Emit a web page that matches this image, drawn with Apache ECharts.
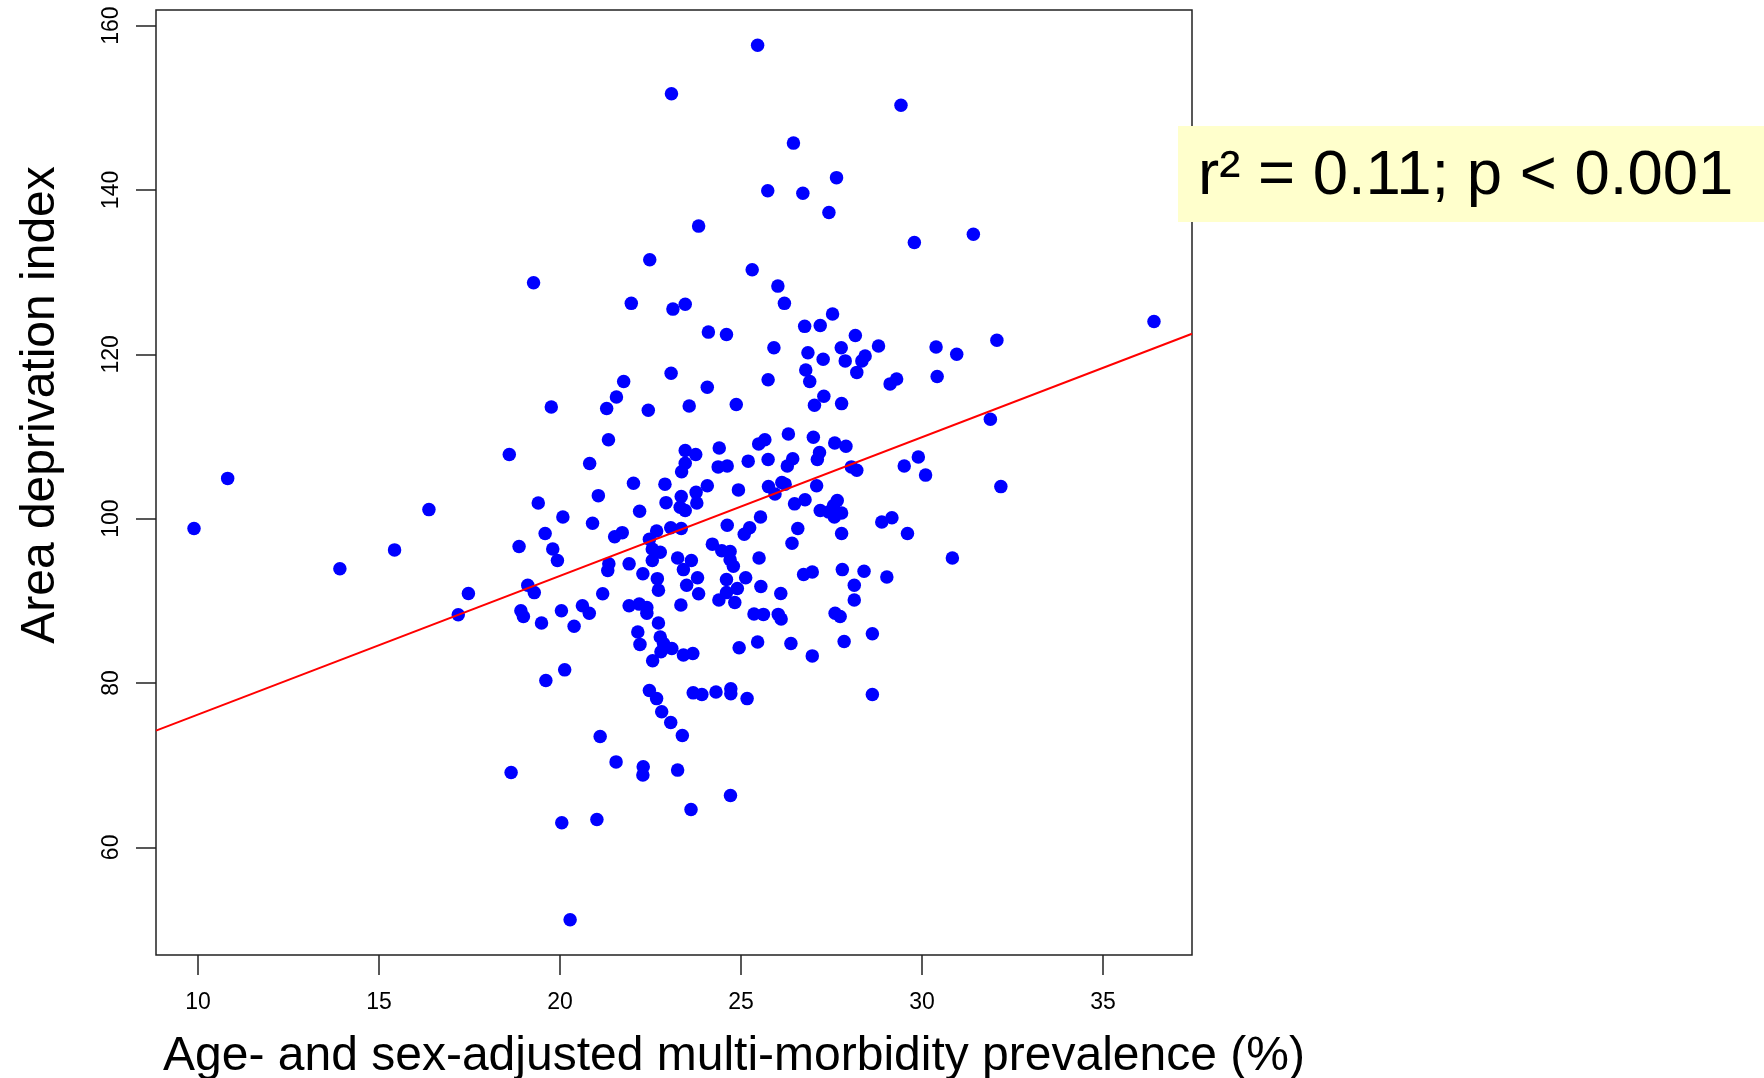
<!DOCTYPE html>
<html>
<head>
<meta charset="utf-8">
<script src="https://cdn.jsdelivr.net/npm/echarts@6/dist/echarts.min.js"></script>
<style>
html,body{margin:0;padding:0;background:#fff;}
#chart{width:1764px;height:1078px;}
</style>
</head>
<body>
<div id="chart"></div>
<script>
// Age- and sex-adjusted multi-morbidity prevalence (%)
const prevalence = [
9.89,10.82,13.92,15.43,16.38,17.19,17.47,18.6,18.65,18.87,18.92,18.99,19.11,19.29,19.27,19.4,19.49,19.59,19.61,19.76,
19.8,19.93,20.04,20.05,20.08,20.13,20.28,20.39,20.62,20.81,20.82,20.9,21.02,21.06,21.11,21.18,21.29,21.32,21.34,21.35,
21.51,21.55,21.56,21.72,21.76,21.91,21.91,21.97,22.03,22.15,22.19,22.2,22.21,22.29,22.29,22.3,22.4,22.4,22.44,22.47,
22.47,22.48,22.55,22.55,22.56,22.67,22.67,22.69,22.72,22.72,22.77,22.77,22.79,22.81,22.86,22.9,22.93,23.06,23.06,23.07,
23.08,23.09,23.12,23.25,23.25,23.32,23.34,23.35,23.35,23.36,23.38,23.41,23.41,23.46,23.46,23.46,23.46,23.5,23.57,23.62,
23.63,23.67,23.68,23.75,23.76,23.78,23.8,23.83,23.83,23.92,24.07,24.07,24.1,24.21,24.31,24.37,24.39,24.4,24.47,24.6,
24.6,24.6,24.62,24.62,24.7,24.7,24.71,24.72,24.72,24.79,24.83,24.87,24.9,24.93,24.95,25.09,25.13,25.17,25.2,25.24,
25.31,25.36,25.46,25.46,25.49,25.5,25.54,25.55,25.62,25.66,25.74,25.75,25.75,25.76,25.91,25.94,26.02,26.03,26.1,26.11,
26.13,26.2,26.22,26.28,26.31,26.38,26.41,26.43,26.45,26.48,26.57,26.71,26.73,26.76,26.77,26.79,26.85,26.9,26.97,26.97,
27.0,27.03,27.09,27.11,27.17,27.19,27.19,27.27,27.29,27.42,27.43,27.53,27.56,27.58,27.59,27.6,27.64,27.66,27.74,27.77,
27.78,27.78,27.78,27.8,27.85,27.88,27.9,28.05,28.13,28.13,28.16,28.2,28.2,28.34,28.4,28.43,28.63,28.63,28.8,28.89,
29.03,29.12,29.17,29.3,29.42,29.51,29.6,29.79,29.9,30.1,30.39,30.42,30.84,30.96,31.42,31.89,32.07,32.18,36.41
];
// Area deprivation index
const deprivation = [
98.8,104.9,93.9,96.2,101.1,88.3,90.9,107.8,69.1,96.6,88.8,88.1,91.9,91.0,128.7,101.9,87.3,98.2,80.3,113.6,
96.3,94.9,88.8,63.0,100.2,81.6,51.2,86.9,89.4,88.5,106.7,99.45,63.4,102.8,73.5,90.85,113.4,93.7,109.6,94.5,
97.8,70.4,114.8,98.3,116.7,94.5,89.4,126.2,104.3,86.2,89.6,100.9,84.7,93.3,68.8,69.8,89.2,88.5,113.2,97.5,
79.1,131.5,96.3,94.9,82.7,98.5,78.1,92.7,91.3,87.3,95.9,85.6,83.8,76.5,84.8,104.2,101.95,98.9,75.2,117.7,
151.7,84.2,125.5,95.2,69.4,101.4,89.5,102.7,98.8,105.7,73.6,93.8,83.4,126.1,108.3,106.75,101.0,91.9,113.7,64.6,
94.9,83.6,78.8,107.8,103.2,101.9,92.8,90.85,135.6,78.6,116.0,104.0,122.7,96.9,78.9,106.3,90.1,108.6,96.1,122.4,
92.6,91.0,106.4,99.2,96.0,95.0,66.3,79.3,78.7,94.2,89.8,113.9,91.5,103.5,84.3,98.1,92.8,78.1,107.0,98.9,
130.3,88.4,157.6,85.0,109.1,95.2,100.2,91.75,88.35,109.6,139.9,116.9,107.2,103.9,120.8,103.0,128.3,88.35,90.9,87.8,
104.4,126.2,104.2,106.4,110.3,84.8,97.0,107.3,145.7,101.8,98.8,139.6,93.2,123.4,102.3,118.1,120.2,116.7,93.5,83.3,
109.9,113.8,104.0,107.2,108.05,123.5,101.0,119.4,114.9,100.8,137.25,124.9,101.6,100.2,109.2,88.5,141.5,102.2,88.1,120.8,
114.0,100.7,98.2,93.8,85.05,119.2,108.8,106.3,91.9,90.1,122.3,117.8,105.9,119.2,93.6,119.8,86.0,78.6,121.0,99.6,
92.9,116.4,100.1,117.0,150.3,106.4,98.2,133.6,107.5,105.3,120.9,117.3,95.2,120.0,134.6,112.1,121.7,103.9,124.0
];
// Fitted regression line endpoints (at the plot edges)
const fitX = [8.84, 37.46];
const fitY = [74.2, 122.5];
// Tick labels
const xTicks = [10, 15, 20, 25, 30, 35];
const yTicks = [60, 80, 100, 120, 140, 160];
const xTitle = 'Age- and sex-adjusted multi-morbidity prevalence (%)';
const yTitle = 'Area deprivation index';
const statText = 'r\u00B2 = 0.11; p < 0.001';

const points = prevalence.map((x, i) => [x, deprivation[i]]);
const fitLine = fitX.map((x, i) => [x, fitY[i]]);
const FONT = '"Liberation Sans", Arial, Helvetica, sans-serif';

const chart = echarts.init(document.getElementById('chart'), null, {renderer: 'canvas'});
chart.setOption({
  backgroundColor: '#ffffff',
  animation: false,
  grid: {
    left: 156, right: 572, top: 10, bottom: 123,
    show: true, borderColor: '#222', borderWidth: 1.5, backgroundColor: 'transparent',
    outerBoundsMode: 'none', containLabel: false
  },
  xAxis: {
    type: 'value', min: 8.84, max: 37.46,
    axisLine: {show: false},
    splitLine: {show: false},
    axisTick: {show: true, inside: false, length: 20, customValues: xTicks, lineStyle: {color: '#222', width: 1.5}},
    axisLabel: {show: true, customValues: xTicks, margin: 36, fontSize: 23, color: '#000', fontFamily: FONT}
  },
  yAxis: {
    type: 'value', min: 46.9, max: 161.9,
    axisLine: {show: false},
    splitLine: {show: false},
    axisTick: {show: true, inside: false, length: 20, customValues: yTicks, lineStyle: {color: '#222', width: 1.5}},
    axisLabel: {show: true, customValues: yTicks, rotate: 90, margin: 33, fontSize: 23, color: '#000', fontFamily: FONT}
  },
  series: [
    {
      type: 'scatter', data: points, symbol: 'circle', symbolSize: 13.5,
      itemStyle: {color: '#0000FF', opacity: 1}, z: 2, silent: true
    },
    {
      type: 'line', data: fitLine, showSymbol: false, symbol: 'none',
      lineStyle: {color: '#FF0000', width: 2}, z: 3, silent: true
    }
  ],
  graphic: [
    {
      type: 'text', x: 41, y: 405, rotation: Math.PI / 2,
      style: {text: yTitle, font: '48px ' + FONT, fill: '#000', textAlign: 'center', textVerticalAlign: 'middle'}
    },
    {
      type: 'text', x: 734, y: 1057,
      style: {text: xTitle, font: '48px ' + FONT, fill: '#000', textAlign: 'center', textVerticalAlign: 'middle'}
    },
    {
      type: 'rect', shape: {x: 1178, y: 126, width: 586, height: 96},
      style: {fill: '#FFFFCC'}, z: 100
    },
    {
      type: 'text', x: 1198, y: 176, z: 101,
      style: {text: statText, font: '63.5px ' + FONT, fill: '#000', textAlign: 'left', textVerticalAlign: 'middle'}
    }
  ]
});
</script>
</body>
</html>
